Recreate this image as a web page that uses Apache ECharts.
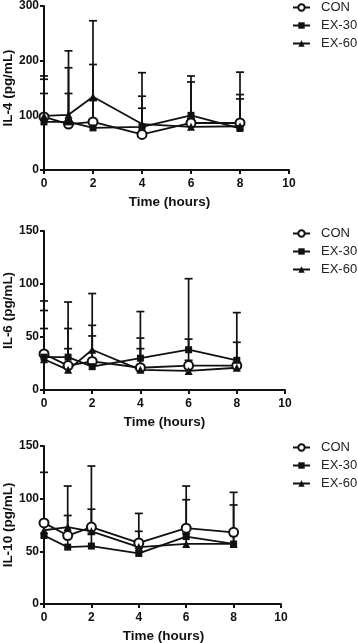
<!DOCTYPE html>
<html>
<head>
<meta charset="utf-8">
<script src="https://cdn.jsdelivr.net/npm/echarts@6/dist/echarts.min.js"></script>
<style>
  html, body { margin: 0; padding: 0; background: #fff; }
  #chart { width: 358px; height: 643px; }
</style>
</head>
<body>
<div id="chart"></div>
<script>
var chart = echarts.init(document.getElementById('chart'));

var times = [0, 1, 2, 4, 6, 8];
var seriesNames = ['CON', 'EX-30', 'EX-60'];

// IL-4 means / upper SD
var con4 = [97, 84, 88, 65, 86, 86];
var ex30_4 = [88, 88, 77, 79, 100, 76];
var ex60_4 = [99, 101, 134, 84, 79, 80];
var con4Sd = [69, 56, 105, 48, 75, 52];
var ex30_4Sd = [52, 99, 50, 56, 72, 54];
var ex60_4Sd = [73, 117, 139, 94, 15, 99];

// IL-6
var con6 = [34, 23, 27, 21, 23, 23];
var ex30_6 = [31, 31, 22, 30, 38, 28];
var ex60_6 = [29, 19, 38, 19, 18, 21];
var con6Sd = [50, 16, 24, 18, 25, 22];
var ex30_6Sd = [27, 52, 39, 44, 67, 45];
var ex60_6Sd = [46, 39, 53, 30, 10, 5];

// IL-10
var con10 = [77, 65, 73, 58, 72, 68];
var ex30_10 = [65, 54, 55, 48, 64, 57];
var ex60_10 = [70, 73, 69, 54, 57, 57];
var con10Sd = [48, 19, 58, 28, 40, 38];
var ex30_10Sd = [10, 10, 12, 5, 35, 37];
var ex60_10Sd = [5, 39, 21, 15, 10, 8];

var yTicks4 = {max: 300, interval: 100};
var yTicks6 = {max: 150, interval: 50};
var yTicks10 = {max: 150, interval: 50};

var panels = [
  {name: 'IL-4 (pg/mL)', y: yTicks4, top: 6, height: 164, width: 245, titleShift: 3,
   means: [con4, ex30_4, ex60_4], sds: [con4Sd, ex30_4Sd, ex60_4Sd], legendTop: 1},
  {name: 'IL-6 (pg/mL)', y: yTicks6, top: 231, height: 159, width: 241, titleShift: 0,
   means: [con6, ex30_6, ex60_6], sds: [con6Sd, ex30_6Sd, ex60_6Sd], legendTop: 227},
  {name: 'IL-10 (pg/mL)', y: yTicks10, top: 446, height: 158, width: 237, titleShift: 1,
   means: [con10, ex30_10, ex60_10], sds: [con10Sd, ex30_10Sd, ex60_10Sd], legendTop: 441}
];

var symbols = ['emptyCircle', 'rect', 'triangle'];
var symbolSizes = [9, 7, 8];
var fontFam = 'Liberation Sans, Arial, sans-serif';
var ink = '#111';

var grids = [], xAxes = [], yAxes = [], series = [], legends = [];

function errRender(params, api) {
  var base = api.coord([api.value(0), api.value(1)]);
  var tip = api.coord([api.value(0), api.value(1) + api.value(2)]);
  var st = {stroke: ink, lineWidth: 1.7};
  return {
    type: 'group',
    children: [
      {type: 'line', shape: {x1: base[0], y1: base[1], x2: tip[0], y2: tip[1]}, style: st},
      {type: 'line', shape: {x1: tip[0] - 4, y1: tip[1], x2: tip[0] + 4, y2: tip[1]}, style: st}
    ]
  };
}

panels.forEach(function (p, gi) {
  grids.push({left: 44, top: p.top, width: p.width, height: p.height,
    outerBoundsMode: 'none', containLabel: false});
  xAxes.push({
    type: 'value', gridIndex: gi, min: 0, max: 10, interval: 2,
    name: 'Time (hours)', nameLocation: 'middle', nameGap: 25, nameMoveOverlap: false,
    nameTextStyle: {fontFamily: fontFam, fontWeight: 'bold', fontSize: 13.5, color: ink,
      padding: [0, 0, 0, p.titleShift * 2]},
    axisLine: {onZero: false, lineStyle: {color: ink, width: 2}},
    axisTick: {length: 4, lineStyle: {color: ink, width: 2}},
    axisLabel: {fontFamily: fontFam, fontWeight: 'bold', fontSize: 12, color: ink, margin: 8},
    splitLine: {show: false}
  });
  yAxes.push({
    type: 'value', gridIndex: gi, min: 0, max: p.y.max, interval: p.y.interval,
    name: p.name, nameLocation: 'middle', nameGap: 29, nameRotate: 90, nameMoveOverlap: false,
    nameTextStyle: {fontFamily: fontFam, fontWeight: 'bold', fontSize: 13.5, color: ink},
    axisLine: {show: true, lineStyle: {color: ink, width: 2}},
    axisTick: {show: true, length: 4, lineStyle: {color: ink, width: 2}},
    axisLabel: {fontFamily: fontFam, fontWeight: 'bold', fontSize: 12, color: ink, margin: 5},
    splitLine: {show: false}
  });
  seriesNames.forEach(function (nm, si) {
    var m = p.means[si], sd = p.sds[si];
    series.push({
      type: 'custom', xAxisIndex: gi, yAxisIndex: gi, z: 1, silent: true,
      renderItem: errRender,
      data: times.map(function (t, i) { return [t, m[i], sd[i]]; }),
      encode: {x: 0, y: 1}
    });
  });
  seriesNames.forEach(function (nm, si) {
    var m = p.means[si];
    series.push({
      name: nm, type: 'line', xAxisIndex: gi, yAxisIndex: gi, z: 3,
      symbol: symbols[si], symbolSize: symbolSizes[si],
      itemStyle: {color: ink, borderColor: ink, borderWidth: si === 0 ? 1.6 : 0},
      lineStyle: {color: ink, width: 1.8},
      data: times.map(function (t, i) { return [t, m[i]]; })
    });
  });
  legends.push({
    data: seriesNames, orient: 'vertical', left: 292, top: p.legendTop, padding: 0,
    itemWidth: 17, itemHeight: 8, itemGap: 5,
    textStyle: {fontFamily: fontFam, fontSize: 13, color: '#222', padding: [0, 0, 0, 6]},
    selectedMode: false
  });
});

chart.setOption({
  animation: false,
  backgroundColor: '#fff',
  grid: grids,
  xAxis: xAxes,
  yAxis: yAxes,
  legend: legends,
  series: series
});
</script>
</body>
</html>
